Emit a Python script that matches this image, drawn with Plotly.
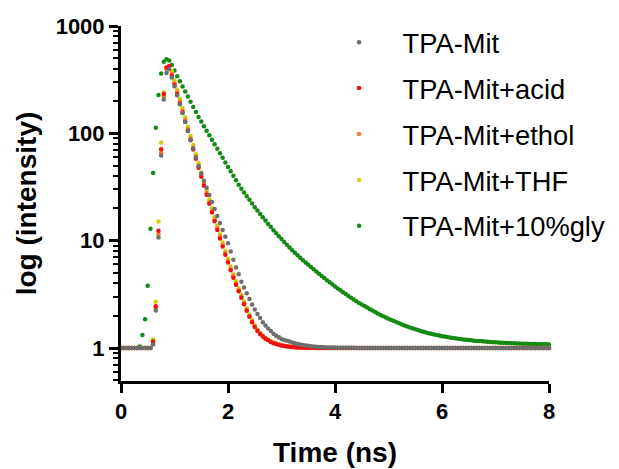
import numpy as np
import plotly.graph_objects as go

# time channels of the decay, 0.05 ns apart
time_ns = np.round(np.arange(161) * 0.05, 2)

names = ["TPA-Mit", "TPA-Mit+acid", "TPA-Mit+ethol", "TPA-Mit+THF", "TPA-Mit+10%gly"]
colors = ["#6e6e6e", "#ee1111", "#ff7a28", "#cfcf10", "#138a13"]

tpa_mit = [
    1, 1, 1, 1, 1, 1, 1, 1, 1, 1,
    1, 1, 1.08, 2.23, 10.7, 62, 207, 365, 395, 332,
    274, 226, 187, 154.5, 127.6, 105.5, 87.2, 72.1, 59.7, 49.4,
    42.3, 36.2, 31.1, 26.6, 22.9, 19.7, 16.96, 14.6, 12.6, 10.9,
    9.45, 7.94, 6.64, 5.62, 4.86, 4.15, 3.66, 3.23, 2.86, 2.54,
    2.28, 2.07, 1.90, 1.74, 1.62, 1.52, 1.44, 1.36, 1.30, 1.26,
    1.215, 1.19, 1.17, 1.15, 1.127, 1.109, 1.09, 1.079, 1.067, 1.057,
    1.047, 1.040, 1.033, 1.028, 1.023, 1.019, 1.016, 1.013, 1.011, 1.009,
    1.008, 1.007, 1.006, 1.005, 1.004, 1.004, 1.003, 1.003, 1.002, 1.002,
    1.002, 1.001, 1.001, 1.001, 1.001, 1.001, 1.001, 1.001, 1.001, 1.001,
    1.001, 1, 1, 1, 1, 1, 1, 1, 1, 1,
    1, 1, 1, 1, 1, 1, 1, 1, 1, 1,
    1, 1, 1, 1, 1, 1, 1, 1, 1, 1,
    1, 1, 1, 1, 1, 1, 1, 1, 1, 1,
    1, 1, 1, 1, 1, 1, 1, 1, 1, 1,
    1, 1, 1, 1, 1, 1, 1, 1, 1, 1,
    1,
]

tpa_acid = [
    1, 1, 1, 1, 1, 1, 1, 1, 1, 1,
    1, 1, 1.15, 2.45, 12.4, 71, 232, 410, 425, 344,
    282, 232, 190, 156, 128, 105, 86.1, 70.8, 58.1, 47.9,
    39.4, 32.5, 26.8, 22.1, 18.3, 15.2, 12.6, 10.5, 8.81, 7.40,
    6.25, 5.30, 4.52, 3.89, 3.37, 2.94, 2.55, 2.22, 1.95, 1.74,
    1.57, 1.44, 1.35, 1.28, 1.22, 1.18, 1.14, 1.11, 1.09, 1.07,
    1.055, 1.045, 1.035, 1.028, 1.022, 1.017, 1.013, 1.010, 1.008, 1.006,
    1.005, 1.004, 1.003, 1.002, 1.002, 1.001, 1, 1, 1, 1,
    1, 1, 1, 1, 1, 1, 1, 1, 1, 1,
    1, 1, 1, 1, 1, 1, 1, 1, 1, 1,
    1, 1, 1, 1, 1, 1, 1, 1, 1, 1,
    1, 1, 1, 1, 1, 1, 1, 1, 1, 1,
    1, 1, 1, 1, 1, 1, 1, 1, 1, 1,
    1, 1, 1, 1, 1, 1, 1, 1, 1, 1,
    1, 1, 1, 1, 1, 1, 1, 1, 1, 1,
    1, 1, 1, 1, 1, 1, 1, 1, 1, 1,
    1,
]

tpa_ethol = [
    1, 1, 1, 1, 1, 1, 1, 1, 1, 1,
    1, 1, 1.12, 2.35, 11.5, 66, 220, 400, 418, 357,
    293, 241, 198, 162, 133, 109, 89.5, 73.6, 60.4, 49.8,
    40.9, 33.8, 27.8, 22.9, 19.0, 15.8, 13.1, 10.9, 9.12, 7.66,
    6.46, 5.47, 4.66, 4.01, 3.46, 3.02, 2.61, 2.27, 1.99, 1.77,
    1.59, 1.46, 1.36, 1.29, 1.23, 1.19, 1.146, 1.114, 1.094, 1.073,
    1.057, 1.047, 1.036, 1.029, 1.023, 1.018, 1.014, 1.010, 1.008, 1.006,
    1.005, 1.004, 1.003, 1.002, 1.002, 1.001, 1, 1, 1, 1,
    1, 1, 1, 1, 1, 1, 1, 1, 1, 1,
    1, 1, 1, 1, 1, 1, 1, 1, 1, 1,
    1, 1, 1, 1, 1, 1, 1, 1, 1, 1,
    1, 1, 1, 1, 1, 1, 1, 1, 1, 1,
    1, 1, 1, 1, 1, 1, 1, 1, 1, 1,
    1, 1, 1, 1, 1, 1, 1, 1, 1, 1,
    1, 1, 1, 1, 1, 1, 1, 1, 1, 1,
    1, 1, 1, 1, 1, 1, 1, 1, 1, 1,
    1,
]

tpa_thf = [
    1, 1, 1, 1, 1, 1, 1, 1, 1, 1,
    1, 1, 1.2, 2.7, 15.1, 82, 242, 395, 415, 378,
    310, 255, 209, 172, 141, 115, 94.6, 77.8, 63.8, 52.6,
    43.2, 35.7, 29.4, 24.2, 20.0, 16.6, 13.8, 11.5, 9.59, 8.04,
    6.78, 5.73, 4.87, 4.18, 3.61, 3.13, 2.71, 2.34, 2.05, 1.81,
    1.63, 1.48, 1.39, 1.31, 1.24, 1.20, 1.154, 1.121, 1.099, 1.077,
    1.061, 1.050, 1.039, 1.031, 1.024, 1.019, 1.014, 1.011, 1.009, 1.007,
    1.005, 1.004, 1.003, 1.002, 1.002, 1.001, 1, 1, 1, 1,
    1, 1, 1, 1, 1, 1, 1, 1, 1, 1,
    1, 1, 1, 1, 1, 1, 1, 1, 1, 1,
    1, 1, 1, 1, 1, 1, 1, 1, 1, 1,
    1, 1, 1, 1, 1, 1, 1, 1, 1, 1,
    1, 1, 1, 1, 1, 1, 1, 1, 1, 1,
    1, 1, 1, 1, 1, 1, 1, 1, 1, 1,
    1, 1, 1, 1, 1, 1, 1, 1, 1, 1,
    1, 1, 1, 1, 1, 1, 1, 1, 1, 1,
    1,
]

tpa_gly = [
    1, 1, 1, 1, 1, 1, 1, 1.03, 1.32, 1.85,
    3.8, 12.9, 42.8, 113, 228, 360, 464, 490, 477, 434,
    385, 341, 305, 273, 245, 220, 197, 176, 158, 142,
    128.6, 116.6, 105.9, 96.1, 87.1, 79.0, 71.8, 65.1, 59.1, 53.6,
    48.6, 44.3, 40.2, 36.5, 33.1, 30.5, 28.1, 25.9, 24.0, 22.2,
    20.5, 19.1, 17.7, 16.5, 15.4, 14.3, 13.4, 12.5, 11.7, 11.0,
    10.35, 9.73, 9.17, 8.64, 8.16, 7.71, 7.30, 6.92, 6.57, 6.25,
    5.95, 5.67, 5.41, 5.15, 4.92, 4.69, 4.48, 4.28, 4.10, 3.92,
    3.75, 3.59, 3.45, 3.31, 3.18, 3.05, 2.94, 2.83, 2.73, 2.63,
    2.54, 2.46, 2.38, 2.30, 2.23, 2.16, 2.10, 2.035, 1.979, 1.925,
    1.873, 1.826, 1.780, 1.736, 1.697, 1.658, 1.621, 1.587, 1.555, 1.524,
    1.495, 1.468, 1.442, 1.418, 1.396, 1.375, 1.356, 1.338, 1.321, 1.305,
    1.290, 1.277, 1.264, 1.252, 1.240, 1.230, 1.220, 1.210, 1.202, 1.193,
    1.185, 1.178, 1.171, 1.165, 1.159, 1.153, 1.148, 1.143, 1.138, 1.133,
    1.129, 1.125, 1.121, 1.117, 1.114, 1.111, 1.108, 1.105, 1.102, 1.100,
    1.097, 1.095, 1.093, 1.091, 1.089, 1.087, 1.086, 1.084, 1.082, 1.081,
    1.080,
]

series = [tpa_mit, tpa_acid, tpa_ethol, tpa_thf, tpa_gly]
for s in series:
    assert len(s) == len(time_ns)

y_major = [1, 10, 100, 1000]
y_minor = [0.5, 0.6, 0.7, 0.8, 0.9,
           2, 3, 4, 5, 6, 7, 8, 9,
           20, 30, 40, 50, 60, 70, 80, 90,
           200, 300, 400, 500, 600, 700, 800, 900]

fig = go.Figure()

# draw last series first so TPA-Mit ends up on top, like the original
for i in reversed(range(len(series))):
    fig.add_trace(go.Scatter(
        x=time_ns, y=series[i], name=names[i], mode="markers",
        marker=dict(size=4.5, color=colors[i], line=dict(width=0)),
        legendrank=i + 1, legendgroup=names[i], cliponaxis=False,
    ))

font_family = "Liberation Sans, Arial, sans-serif"

fig.update_xaxes(
    range=[0, 8], dtick=2, showgrid=False, zeroline=False, automargin=False,
    showline=True, linewidth=3, linecolor="black",
    ticks="outside", ticklen=9, tickwidth=3, tickcolor="black",
    tickfont=dict(family=font_family, size=22, color="black", weight="bold"),
    title=dict(text="Time (ns)", standoff=19,
               font=dict(family=font_family, size=28, color="black", weight="bold")),
)
fig.update_yaxes(
    type="log", range=[-0.3075, 3], tickvals=y_major, ticktext=[str(v) for v in y_major],
    showgrid=False, zeroline=False, automargin=False,
    showline=True, linewidth=3, linecolor="black",
    ticks="outside", ticklen=9, tickwidth=3, tickcolor="black",
    minor=dict(tickmode="array", tickvals=y_minor, ticks="outside",
               ticklen=5, tickwidth=2, tickcolor="black"),
    tickfont=dict(family=font_family, size=22, color="black", weight="bold"),
    title=dict(text="log (intensity)", standoff=11,
               font=dict(family=font_family, size=28, color="black", weight="bold")),
)

# the page body adds 8 px on the left and top, so the figure is 8 px smaller
fig.update_layout(
    width=611, height=461,
    margin=dict(l=113, r=70, t=18, b=88, autoexpand=False),
    plot_bgcolor="white", paper_bgcolor="white",
    font=dict(family=font_family, color="black"),
    legend=dict(x=0.4546, y=1.0226, xanchor="left", yanchor="top",
                bgcolor="rgba(0,0,0,0)", itemwidth=77, tracegroupgap=7.4,
                maxheight=320,
                font=dict(family=font_family, size=27.3, color="black")),
)

fig.write_html("out.html")
